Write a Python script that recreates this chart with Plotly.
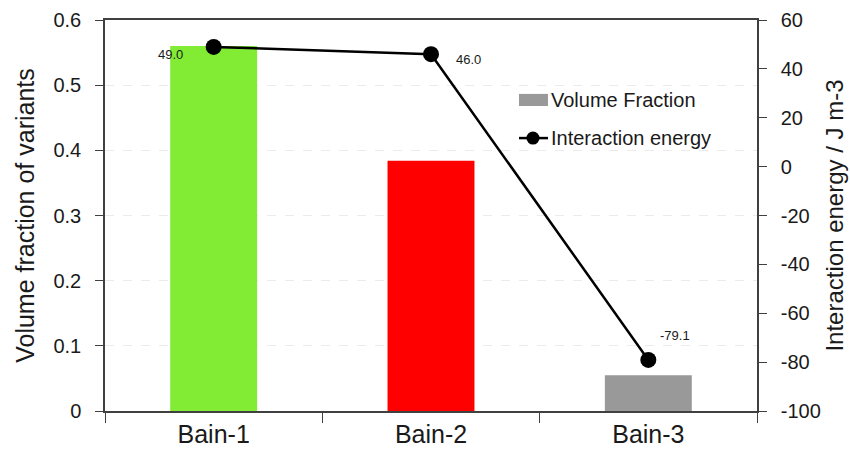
import plotly.graph_objects as go

# Data
categories = ["Bain-1", "Bain-2", "Bain-3"]
volume_fraction = [0.56, 0.384, 0.055]
interaction_energy = [49.0, 46.0, -79.1]
bar_colors = ["#82EC35", "#FF0000", "#999999"]

left_ticks = [0, 0.1, 0.2, 0.3, 0.4, 0.5, 0.6]
right_ticks = [-100, -80, -60, -40, -20, 0, 20, 40, 60]
right_ticktext = [str(v) for v in right_ticks]

FONT = "Liberation Sans, Arial, sans-serif"
AXIS_COLOR = "#404040"
TEXT_COLOR = "#1a1a1a"

fig = go.Figure()

fig.add_trace(go.Bar(
    x=categories, y=volume_fraction, width=0.4,
    marker=dict(color=bar_colors, line=dict(width=0)),
    showlegend=False, yaxis="y",
))

fig.add_trace(go.Scatter(
    x=categories, y=interaction_energy, yaxis="y2",
    mode="lines+markers",
    line=dict(color="black", width=2.5),
    marker=dict(color="black", size=16),
    showlegend=False,
))

# value labels beside each energy point
label_offsets = [(-43, -8), (37, -5), (27, 24)]
for cat, val, (dx, dy) in zip(categories, interaction_energy, label_offsets):
    fig.add_annotation(
        x=cat, y=val, xref="x", yref="y2", text=f"{val:.1f}",
        showarrow=False, xshift=dx, yshift=dy,
        font=dict(family=FONT, size=13, color=TEXT_COLOR),
    )

# legend drawn in paper coordinates
fig.add_shape(type="rect", xref="paper", yref="paper",
              x0=0.635, x1=0.6794, y0=0.780, y1=0.811,
              fillcolor="#999999", line=dict(width=0))
fig.add_shape(type="line", xref="paper", yref="paper",
              x0=0.635, x1=0.6794, y0=0.698, y1=0.698,
              line=dict(color="black", width=2.5))
fig.add_shape(type="circle", xref="paper", yref="paper",
              x0=0.6564 - 0.0100, x1=0.6564 + 0.0100,
              y0=0.698 - 0.0166, y1=0.698 + 0.0166,
              fillcolor="black", line=dict(width=0))
fig.add_annotation(x=0.6810, y=0.795, xref="paper", yref="paper",
                   text="Volume Fraction", showarrow=False,
                   xanchor="left", yanchor="middle",
                   font=dict(family=FONT, size=20, color=TEXT_COLOR))
fig.add_annotation(x=0.6810, y=0.698, xref="paper", yref="paper",
                   text="Interaction energy", showarrow=False,
                   xanchor="left", yanchor="middle",
                   font=dict(family=FONT, size=20, color=TEXT_COLOR))

fig.update_layout(
    width=850, height=465,
    margin=dict(l=105, r=93, t=20, b=54),
    paper_bgcolor="white", plot_bgcolor="white",
    font=dict(family=FONT, color=TEXT_COLOR),
    barmode="overlay",
    xaxis=dict(
        type="category", showline=True, linecolor=AXIS_COLOR, linewidth=1.5,
        mirror=True, ticks="outside", tickson="boundaries", ticklen=10,
        tickcolor=AXIS_COLOR, tickwidth=1, showgrid=False, automargin=False,
        tickfont=dict(family=FONT, size=25, color=TEXT_COLOR),
    ),
    yaxis=dict(
        range=[0, 0.6], tickvals=left_ticks,
        showline=True, linecolor=AXIS_COLOR, linewidth=1.5,
        ticks="outside", ticklen=8, tickcolor=AXIS_COLOR, tickwidth=1,
        ticklabelstandoff=10, automargin=False,
        showgrid=True, gridcolor="#ebebeb", griddash="dash", gridwidth=1,
        zeroline=False,
        tickfont=dict(family=FONT, size=20, color=TEXT_COLOR),
        title=dict(text="Volume fraction of variants", standoff=12,
                   font=dict(family=FONT, size=25, color=TEXT_COLOR)),
    ),
    yaxis2=dict(
        range=[-100, 60], tickvals=right_ticks, ticktext=right_ticktext,
        overlaying="y", side="right",
        showline=True, linecolor=AXIS_COLOR, linewidth=1.5,
        ticks="outside", ticklen=8, tickcolor=AXIS_COLOR, tickwidth=1,
        ticklabelstandoff=10, automargin=False,
        showgrid=False, zeroline=False,
        tickfont=dict(family=FONT, size=20, color=TEXT_COLOR),
        title=dict(text="Interaction energy / J m-3", standoff=6,
                   font=dict(family=FONT, size=24, color=TEXT_COLOR)),
    ),
)

fig.write_html("out.html")
